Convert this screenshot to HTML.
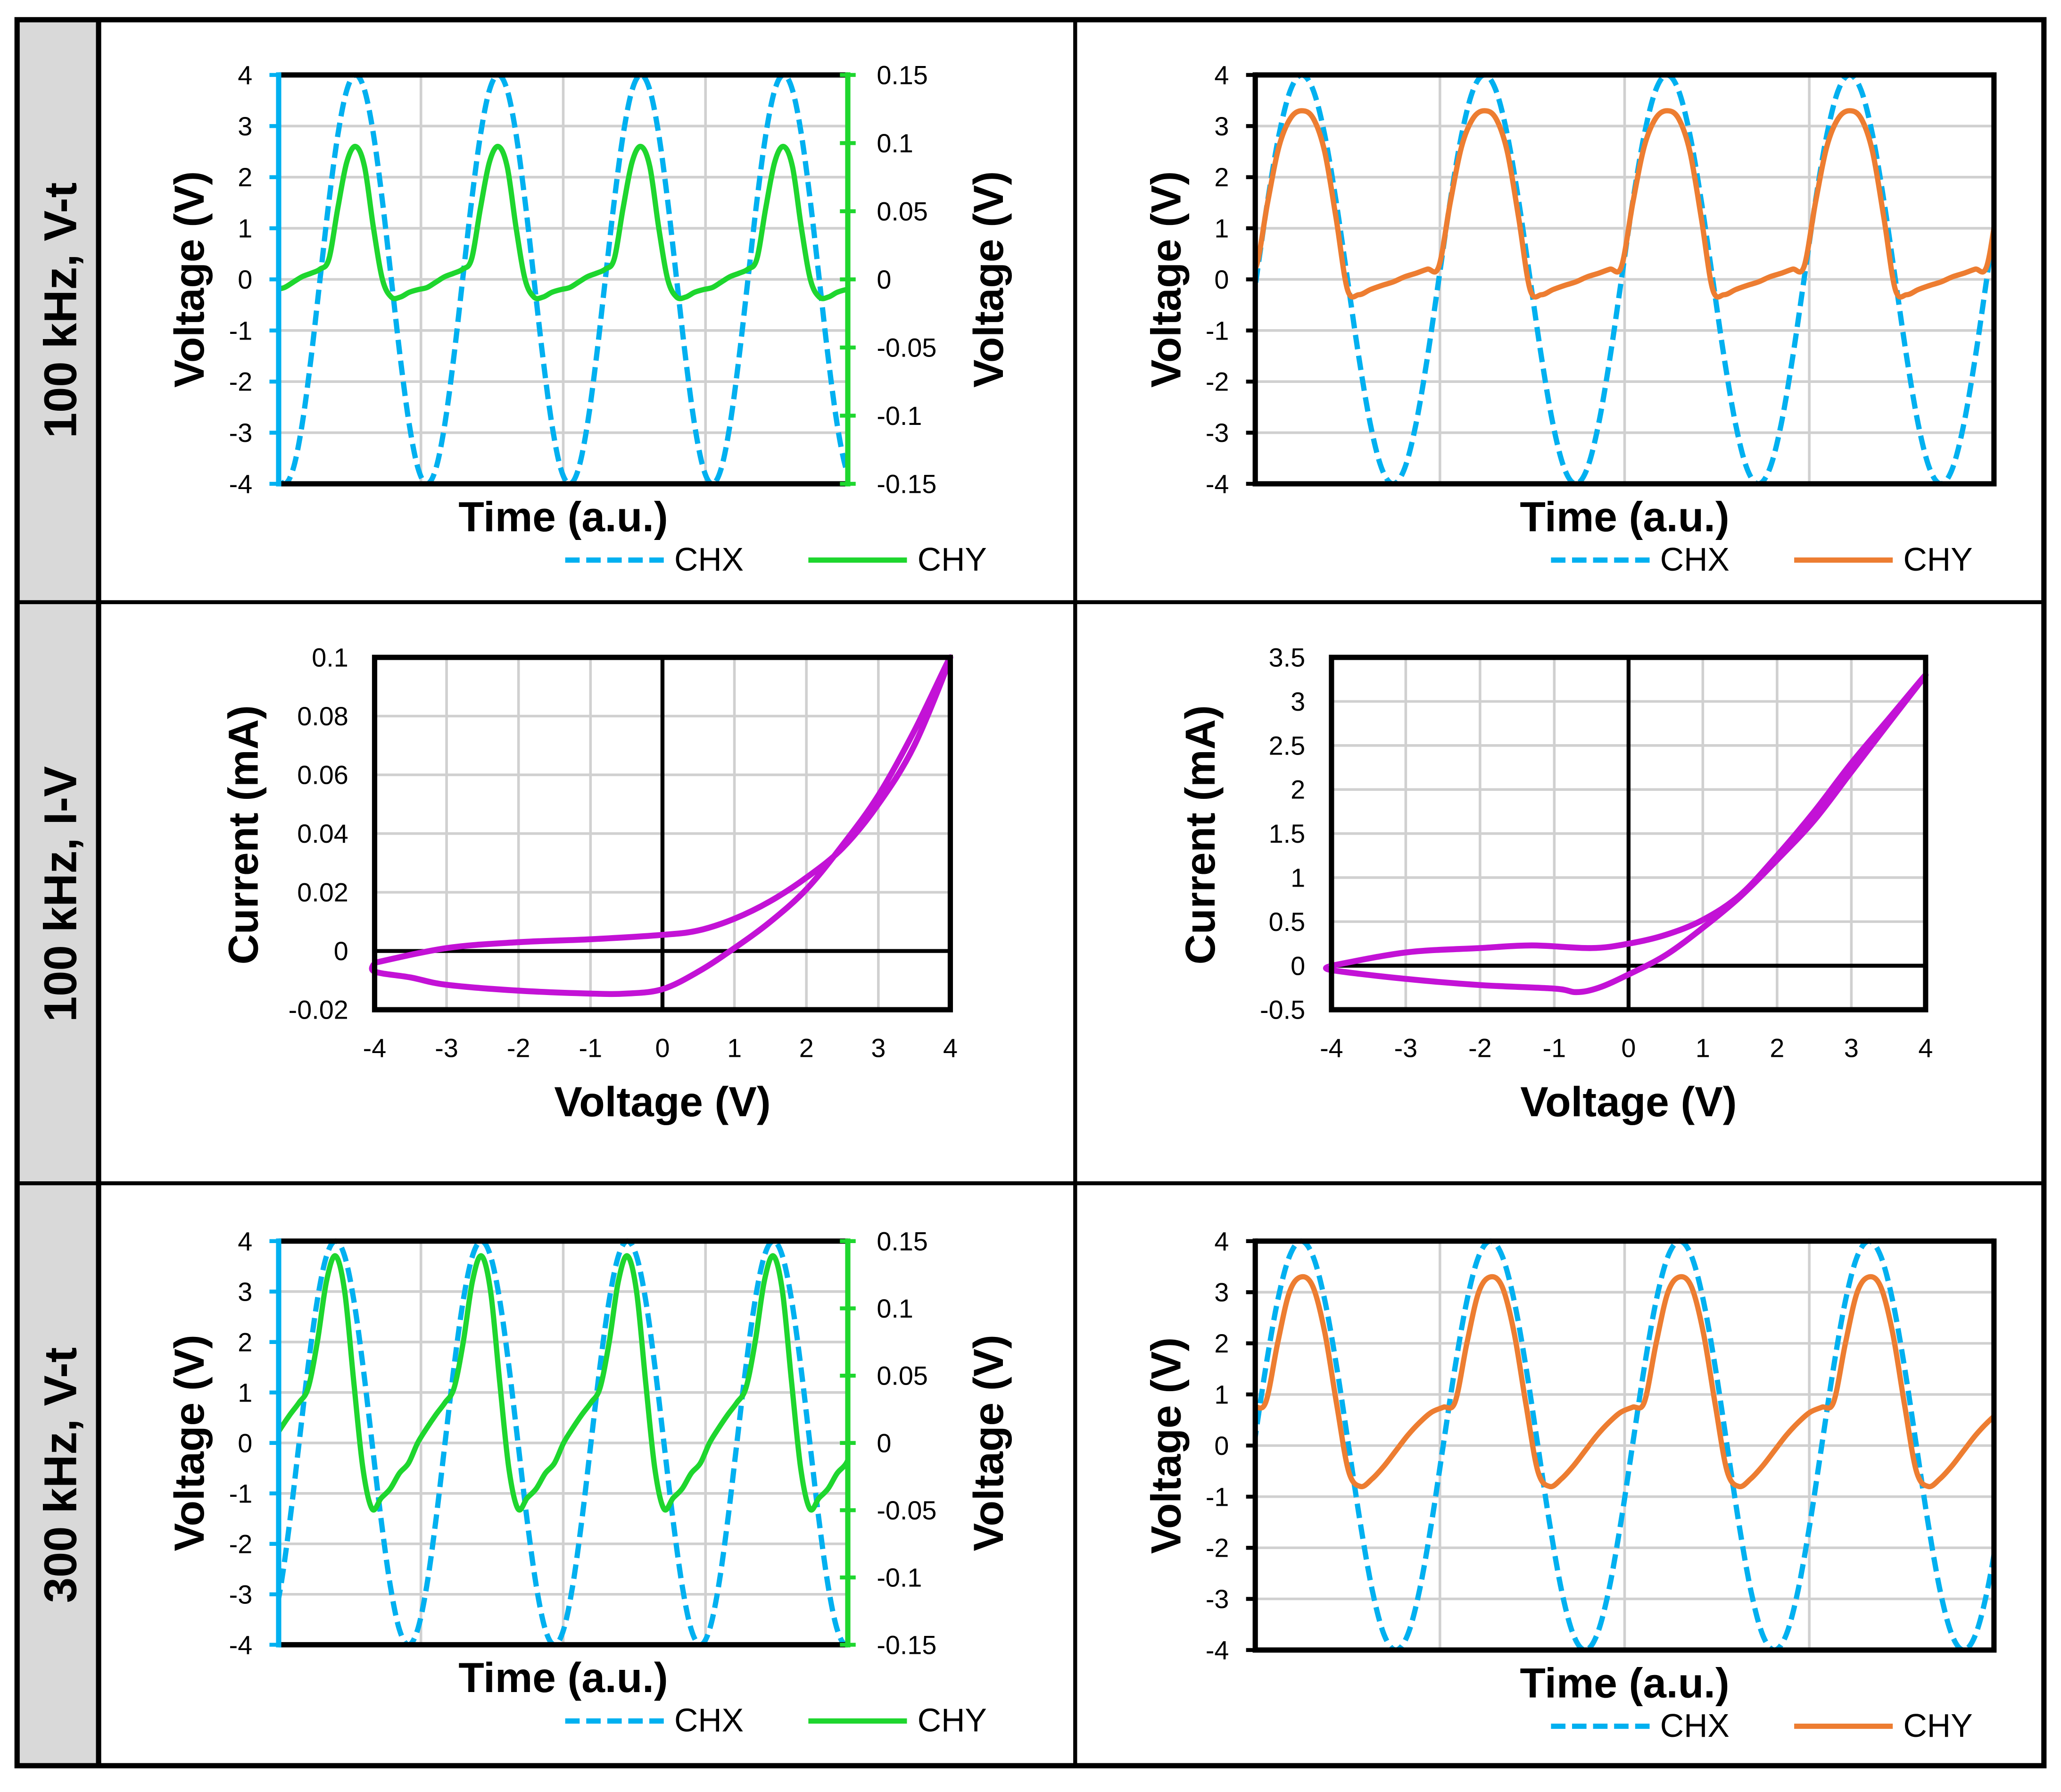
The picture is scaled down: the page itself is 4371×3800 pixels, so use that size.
<!DOCTYPE html>
<html><head><meta charset="utf-8"><style>
html,body{margin:0;padding:0;background:#fff;}
svg{display:block;font-family:"Liberation Sans",Arial,sans-serif;}
</style></head><body>
<svg id="fig" xmlns="http://www.w3.org/2000/svg" width="4371" height="3800" viewBox="0 0 1568 1363" preserveAspectRatio="none">
<rect x="0" y="0" width="1568" height="1363" fill="#fff"/>
<g id="frame">
<rect x="13" y="15" width="62" height="1328" fill="#D9D9D9"/>
<rect x="13" y="15" width="1542" height="1328" fill="none" stroke="#000" stroke-width="4"/>
<line x1="75" y1="15" x2="75" y2="1343" stroke="#000" stroke-width="4"/>
<line x1="818" y1="15" x2="818" y2="1343" stroke="#000" stroke-width="3"/>
<line x1="13" y1="458" x2="1555" y2="458" stroke="#000" stroke-width="3"/>
<line x1="13" y1="900" x2="1555" y2="900" stroke="#000" stroke-width="3"/>
<text transform="translate(58,236) rotate(-90)" text-anchor="middle" font-size="35" font-weight="bold">100 kHz, V-t</text>
<text transform="translate(58,680) rotate(-90)" text-anchor="middle" font-size="35" font-weight="bold">100 kHz, I-V</text>
<text transform="translate(58,1122) rotate(-90)" text-anchor="middle" font-size="35" font-weight="bold">300 kHz, V-t</text>
</g>
</svg>
<script>
// ===== data: V-t cycles (16 samples per period, starting at CHX minimum) =====
const p1Chx = [-4,-3.7,-2.83,-1.53,0,1.53,2.83,3.7,4,3.7,2.83,1.53,0,-1.53,-2.83,-3.7];
const p1Chy = [-0.006,-0.002,0.002,0.0045,0.0075,0.015,0.0525,0.086,0.0975,0.0825,0.0375,0,-0.013,-0.013,-0.0095,-0.0075];
const p1Time = [-0.04, 3.95];
const p2Chx = [-4,-3.7,-2.83,-1.53,0,1.53,2.83,3.7,4,3.7,2.83,1.53,0,-1.53,-2.83,-3.7];
const p2Chy = [-0.05,0.05,0.12,0.2,0.25,1.5,2.6,3.15,3.3,3.15,2.5,1.2,-0.2,-0.3,-0.2,-0.12];
const p2Time = [0.245, 4.29];
const p5Chx = [-4,-3.7,-2.83,-1.53,0,1.53,2.83,3.7,4,3.7,2.83,1.53,0,-1.53,-2.83,-3.7];
const p5Chy = [-0.015,0,0.011,0.021,0.03,0.041,0.075,0.12,0.139,0.1125,0.045,-0.019,-0.049,-0.041,-0.034,-0.0225];
const p5Time = [0.11, 4.01];
const p6Chx = [-4,-3.7,-2.83,-1.53,0,1.53,2.83,3.7,4,3.7,2.83,1.53,0,-1.53,-2.83,-3.7];
const p6Chy = [-0.1,0.2,0.45,0.65,0.75,0.85,2.0,3.0,3.3,3.1,2.2,0.8,-0.5,-0.8,-0.65,-0.4];
const p6Time = [0.257, 4.16];
const vtTicks = [-4,-3,-2,-1,0,1,2,3,4];
const rightTicks = [-0.15,-0.1,-0.05,0,0.05,0.1,0.15];
const rightTickLabels = ["-0.15","-0.1","-0.05","0","0.05","0.1","0.15"];
// ===== data: I-V loops =====
const p3V = [-4,-3,-2,-1,0,0.5,1,1.5,2,2.5,3,3.5,4,3.5,3,2.5,2,1.5,1,0.5,0,-0.5,-1,-2,-3,-3.5,-4,-4];
const p3I = [-0.004,0.001,0.003,0.004,0.0055,0.007,0.011,0.017,0.025,0.035,0.05,0.07,0.1,0.075,0.053,0.036,0.021,0.01,0.001,-0.007,-0.013,-0.0145,-0.0145,-0.0135,-0.0115,-0.009,-0.007,-0.004];
const p4V = [-4,-3,-2,-1.3,-0.5,0,0.5,1,1.5,2,2.5,3,3.5,4,3.5,3,2.5,2,1.5,1,0.5,0,-0.4,-0.7,-1,-2,-3,-4,-4];
const p4I = [0,0.15,0.2,0.23,0.2,0.25,0.35,0.52,0.8,1.25,1.75,2.3,2.8,3.3,2.75,2.2,1.65,1.2,0.78,0.43,0.12,-0.1,-0.25,-0.3,-0.26,-0.22,-0.15,-0.05,0];
const ivXTicks = [-4,-3,-2,-1,0,1,2,3,4];
const p3YTicks = [-0.02,0,0.02,0.04,0.06,0.08,0.1];
const p3YLabels = ["-0.02","0","0.02","0.04","0.06","0.08","0.1"];
const p4YTicks = [-0.5,0,0.5,1,1.5,2,2.5,3,3.5];
const p4YLabels = ["-0.5","0","0.5","1","1.5","2","2.5","3","3.5"];

const NS='http://www.w3.org/2000/svg';
const svg=document.getElementById('fig');
const BLUE='#00B0F0', GREEN='#1ED62E', ORANGE='#ED7D31', MAG='#C312D6', GRID='#D0D0D0';
const TITLE=32;
function mk(tag,parent,attrs){const e=document.createElementNS(NS,tag);for(const k in attrs)e.setAttribute(k,attrs[k]);parent.appendChild(e);return e;}
function smooth(pts){let d='M'+pts[0][0].toFixed(2)+','+pts[0][1].toFixed(2);for(let i=0;i<pts.length-1;i++){const p0=pts[i-1]||pts[i],p1=pts[i],p2=pts[i+1],p3=pts[i+2]||pts[i+1];const c1x=p1[0]+(p2[0]-p0[0])/6,c1y=p1[1]+(p2[1]-p0[1])/6,c2x=p2[0]-(p3[0]-p1[0])/6,c2y=p2[1]-(p3[1]-p1[1])/6;d+='C'+c1x.toFixed(2)+','+c1y.toFixed(2)+' '+c2x.toFixed(2)+','+c2y.toFixed(2)+' '+p2[0].toFixed(2)+','+p2[1].toFixed(2);}return d;}
let clipId=0;
function txt(parent,x,y,s,size,anchor,bold){const t=mk('text',parent,{x:x,y:y,'font-size':size,'text-anchor':anchor||'middle'});if(bold)t.setAttribute('font-weight','bold');t.textContent=s;return t;}

function vtPanel(P,chx,chy,time){
  const g=mk('g',svg,{});
  
  
  const sx=t=>P.x0+(t-time[0])/(time[1]-time[0])*(P.x1-P.x0);
  const sy=v=>P.y1-(v+4)/8*(P.y1-P.y0);
  const sr=v=>P.y1-(v-P.rMin)/(P.rMax-P.rMin)*(P.y1-P.y0);
  for(const v of vtTicks){const l=mk('line',g,{x1:P.x0,x2:P.x1,y1:sy(v),y2:sy(v),stroke:GRID,'stroke-width':2});}
  for(let i=1;i<4;i++){const x=P.x0+i*(P.x1-P.x0)/4;const l=mk('line',g,{x1:x,x2:x,y1:P.y0,y2:P.y1,stroke:GRID,'stroke-width':2});}
  const cid='c'+(clipId++);
  const cp=mk('clipPath',g,{id:cid});mk('rect',cp,{x:P.x0,y:P.y0-3,width:P.x1-P.x0,height:P.y1-P.y0+6});
  function series(cyc,scale,color,dash,nm){
    const pts=[];const k0=Math.floor(time[0]*16)-2,k1=Math.ceil(time[1]*16)+2;
    for(let k=k0;k<=k1;k++){const v=cyc[((k%16)+16)%16];pts.push([sx(k/16),scale(v)]);}
    const p=mk('path',g,{d:smooth(pts),fill:'none',stroke:color,'stroke-width':4,'clip-path':'url(#'+cid+')','stroke-linejoin':'round'});
    if(dash)p.setAttribute('stroke-dasharray','11 5');
    
    
  }
  series(chx,sy,BLUE,true,'chx-line');
  series(chy,P.right?sr:sy,P.color,false,'chy-line');
  mk('line',g,{x1:P.x0,x2:P.x1,y1:P.y0,y2:P.y0,stroke:'#000','stroke-width':4});
  mk('line',g,{x1:P.x0,x2:P.x1,y1:P.y1,y2:P.y1,stroke:'#000','stroke-width':4});
  const la=mk('line',g,{x1:P.x0,x2:P.x0,y1:P.y0-2,y2:P.y1+2,stroke:P.right?BLUE:'#000','stroke-width':4});
  
  
  if(P.right){
    const ra=mk('line',g,{x1:P.x1,x2:P.x1,y1:P.y0-2,y2:P.y1+2,stroke:GREEN,'stroke-width':4});
    
    
    rightTicks.forEach((v,i)=>{mk('line',g,{x1:P.x1-6,x2:P.x1+6,y1:sr(v),y2:sr(v),stroke:GREEN,'stroke-width':3});
      const t=txt(g,P.x1+22,sr(v)+7,rightTickLabels[i],20,'start');});
    const rt=txt(g,0,0,'Voltage (V)',TITLE,'middle',true);rt.setAttribute('transform','translate('+(P.x1+118)+','+((P.y0+P.y1)/2)+') rotate(-90)');
    
  } else {
    mk('line',g,{x1:P.x1,x2:P.x1,y1:P.y0-2,y2:P.y1+2,stroke:'#000','stroke-width':4});
  }
  vtTicks.forEach(v=>{mk('line',g,{x1:P.x0-7,x2:P.x0,y1:sy(v),y2:sy(v),stroke:P.right?BLUE:'#000','stroke-width':3});
    const t=txt(g,P.x0-20,sy(v)+7,String(v),20,'end');});
  const lt=txt(g,0,0,'Voltage (V)',TITLE,'middle',true);lt.setAttribute('transform','translate('+(P.x0-57)+','+((P.y0+P.y1)/2)+') rotate(-90)');
  
  const xt=txt(g,(P.x0+P.x1)/2,P.y1+36,'Time (a.u.)',TITLE,'middle',true);
  
  const ly=P.y1+58;
  const l1=mk('line',g,{x1:P.lx,x2:P.lx+75,y1:ly,y2:ly,stroke:BLUE,'stroke-width':4,'stroke-dasharray':'11 5'});
  
  const t1=txt(g,P.lx+83,ly+8,'CHX',25,'start');
  const l2=mk('line',g,{x1:P.lx+185,x2:P.lx+260,y1:ly,y2:ly,stroke:P.color,'stroke-width':4});
  
  const t2=txt(g,P.lx+268,ly+8,'CHY',25,'start');
}

function ivPanel(P,vs,is,yt,yl){
  const g=mk('g',svg,{});
  
  
  const sx=v=>P.x0+(v+4)/8*(P.x1-P.x0);
  const sy=v=>P.y1-(v-P.yMin)/(P.yMax-P.yMin)*(P.y1-P.y0);
  for(const v of ivXTicks){mk('line',g,{x1:sx(v),x2:sx(v),y1:P.y0,y2:P.y1,stroke:GRID,'stroke-width':2});
    const t=txt(g,sx(v),P.y1+36,String(v),20,'middle');}
  yt.forEach((v,i)=>{mk('line',g,{x1:P.x0,x2:P.x1,y1:sy(v),y2:sy(v),stroke:GRID,'stroke-width':2});
    const t=txt(g,P.x0-20,sy(v)+7,yl[i],20,'end');});
  mk('line',g,{x1:sx(0),x2:sx(0),y1:P.y0,y2:P.y1,stroke:'#000','stroke-width':3});
  mk('line',g,{x1:P.x0,x2:P.x1,y1:sy(0),y2:sy(0),stroke:'#000','stroke-width':3});
  const pts=vs.map((v,i)=>[sx(v),sy(is[i])]);
  const p=mk('path',g,{d:smooth(pts),fill:'none',stroke:MAG,'stroke-width':4.5,'stroke-linejoin':'round'});
  
  
  const b=mk('rect',g,{x:P.x0,y:P.y0,width:P.x1-P.x0,height:P.y1-P.y0,fill:'none',stroke:'#000','stroke-width':4});
  
  const xt=txt(g,(P.x0+P.x1)/2,P.y1+81,'Voltage (V)',TITLE,'middle',true);
  
  const yt2=txt(g,0,0,'Current (mA)',TITLE,'middle',true);yt2.setAttribute('transform','translate('+(P.x0-89)+','+((P.y0+P.y1)/2+1)+') rotate(-90)');
  
}

vtPanel({name:'panel-100khz-vt-left',x0:212,x1:645,y0:57,y1:368,right:true,rMin:-0.15,rMax:0.15,color:GREEN,lx:430},p1Chx,p1Chy,p1Time);
vtPanel({name:'panel-100khz-vt-right',x0:955,x1:1517,y0:57,y1:368,right:false,color:ORANGE,lx:1180},p2Chx,p2Chy,p2Time);
ivPanel({name:'panel-100khz-iv-left',x0:285,x1:723,y0:500,y1:768,yMin:-0.02,yMax:0.1},p3V,p3I,p3YTicks,p3YLabels);
ivPanel({name:'panel-100khz-iv-right',x0:1013,x1:1465,y0:500,y1:768,yMin:-0.5,yMax:3.5},p4V,p4I,p4YTicks,p4YLabels);
vtPanel({name:'panel-300khz-vt-left',x0:212,x1:645,y0:944,y1:1251,right:true,rMin:-0.15,rMax:0.15,color:GREEN,lx:430},p5Chx,p5Chy,p5Time);
vtPanel({name:'panel-300khz-vt-right',x0:955,x1:1517,y0:944,y1:1255,right:false,color:ORANGE,lx:1180},p6Chx,p6Chy,p6Time);
</script>
</body></html>
